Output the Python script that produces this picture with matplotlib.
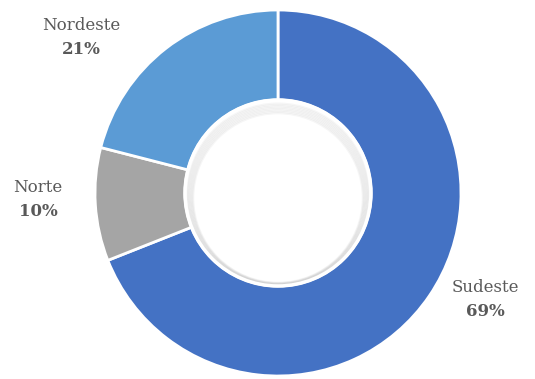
import matplotlib.pyplot as plt
from matplotlib.patches import Circle

# data
regions = ['Sudeste', 'Norte', 'Nordeste']
shares = [69, 10, 21]
colors = ['#4472C4', '#A5A5A5', '#5B9BD5']

W, H = 535, 379
cx, cy = 278, H - 193
r_out, r_in = 183, 93

fig = plt.figure(figsize=(W / 100, H / 100), dpi=100)
ax = fig.add_axes([0, 0, 1, 1])

ax.pie(shares, colors=colors, startangle=90, counterclock=False,
       center=(cx, cy), radius=r_out, frame=True,
       wedgeprops=dict(width=r_out - r_in, edgecolor='white', linewidth=2))
ax.set_xlim(0, W)
ax.set_ylim(0, H)
ax.set_aspect('equal')
ax.axis('off')

# soft inner shadow in the hole, heavier at the top
for i in range(8):
    ax.add_patch(Circle((cx, cy - 1.5 - i * 0.5), r_in - 2 - i * 0.9, fill=False,
                        edgecolor='black', linewidth=1.5, alpha=0.035, zorder=3))
ax.add_patch(Circle((cx, cy), r_in, fill=False, edgecolor='white', linewidth=2.5, zorder=4))

# label positions (pixel coords from the top-left)
label_pos = {'Sudeste': (485, 287), 'Norte': (38, 188), 'Nordeste': (81, 25)}
for name, val in zip(regions, shares):
    x, y = label_pos[name]
    ax.text(x, H - y, name, ha='center', va='center', fontsize=12,
            family='DejaVu Serif', color='#595959')
    ax.text(x, H - y - 24, f'{val}%', ha='center', va='center', fontsize=12,
            family='DejaVu Serif', fontweight='bold', color='#595959')

fig.savefig('out.png', dpi=100)
